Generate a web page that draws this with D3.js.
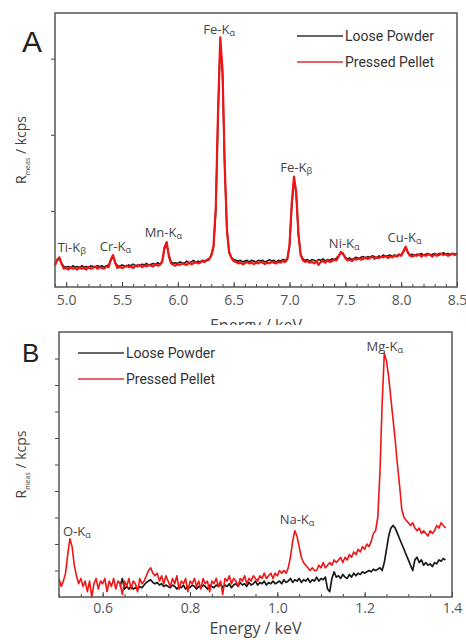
<!DOCTYPE html>
<html>
<head>
<meta charset="utf-8">
<script src="https://cdn.jsdelivr.net/npm/d3@7"></script>
<style>
  body { margin: 0; background: #fff; }
  text { font-family: "Open Sans", sans-serif; fill: #444; }
  .legend text { font-family: Roboto, sans-serif; fill: #333; }
  .axis text { fill: #555; }
  .axis line { stroke: #444; }
</style>
</head>
<body>
<svg width="466" height="640"></svg>
<script>
// ---- panel A : 4.9 - 8.5 keV, one point every 0.02 keV ----
const startA = 4.90, stepA = 0.02;
const pelletA = [
  0.28,0.36,0.39,0.30,0.24,0.25,0.23,0.26,0.24,0.25,
  0.23,0.26,0.24,0.25,0.23,0.26,0.24,0.25,0.27,0.24,
  0.26,0.25,0.24,0.27,0.26,0.36,0.42,0.31,0.25,0.27,
  0.25,0.26,0.28,0.26,0.27,0.25,0.28,0.27,0.29,0.26,
  0.28,0.27,0.29,0.28,0.27,0.30,0.28,0.29,0.33,0.52,
  0.59,0.40,0.31,0.29,0.28,0.30,0.29,0.31,0.30,0.29,
  0.32,0.30,0.31,0.33,0.31,0.32,0.34,0.33,0.35,0.36,
  0.42,0.55,1.05,2.30,3.28,2.85,1.60,0.75,0.45,0.38,
  0.34,0.33,0.31,0.32,0.30,0.31,0.33,0.31,0.32,0.30,
  0.32,0.31,0.33,0.32,0.30,0.32,0.31,0.33,0.32,0.31,
  0.33,0.32,0.34,0.33,0.36,0.55,1.10,1.45,1.25,0.70,
  0.42,0.35,0.33,0.34,0.32,0.33,0.31,0.34,0.29,0.33,
  0.34,0.32,0.35,0.33,0.34,0.36,0.35,0.40,0.46,0.44,
  0.38,0.35,0.36,0.34,0.37,0.36,0.38,0.36,0.37,0.39,
  0.37,0.38,0.40,0.37,0.39,0.38,0.40,0.39,0.41,0.38,
  0.40,0.39,0.41,0.40,0.42,0.41,0.47,0.53,0.45,0.41,
  0.40,0.42,0.41,0.43,0.40,0.42,0.41,0.43,0.42,0.40,
  0.43,0.41,0.42,0.44,0.42,0.43,0.41,0.43,0.44,0.42,
  0.43
];
const powderA = [
  0.30,0.35,0.37,0.31,0.27,0.26,0.27,0.25,0.28,0.26,
  0.27,0.25,0.28,0.26,0.27,0.25,0.28,0.27,0.26,0.28,
  0.27,0.28,0.26,0.28,0.29,0.35,0.40,0.32,0.28,0.27,
  0.29,0.28,0.27,0.29,0.28,0.30,0.28,0.29,0.28,0.30,
  0.29,0.31,0.28,0.30,0.31,0.29,0.32,0.30,0.34,0.50,
  0.56,0.42,0.33,0.31,0.32,0.31,0.33,0.32,0.31,0.34,
  0.32,0.33,0.35,0.32,0.34,0.33,0.35,0.34,0.36,0.37,
  0.41,0.52,1.00,2.25,3.22,2.80,1.55,0.72,0.46,0.39,
  0.36,0.35,0.34,0.35,0.33,0.34,0.35,0.33,0.35,0.34,
  0.33,0.35,0.34,0.35,0.33,0.34,0.36,0.34,0.35,0.33,
  0.35,0.34,0.36,0.35,0.37,0.53,1.05,1.40,1.22,0.68,
  0.43,0.37,0.35,0.36,0.34,0.36,0.35,0.34,0.36,0.35,
  0.37,0.34,0.36,0.35,0.37,0.36,0.38,0.41,0.45,0.43,
  0.39,0.37,0.38,0.36,0.38,0.39,0.37,0.39,0.40,0.38,
  0.40,0.39,0.41,0.40,0.38,0.41,0.39,0.42,0.40,0.41,
  0.42,0.40,0.42,0.41,0.43,0.42,0.46,0.51,0.46,0.42,
  0.43,0.41,0.43,0.42,0.44,0.42,0.43,0.44,0.42,0.43,
  0.44,0.42,0.44,0.43,0.45,0.43,0.44,0.42,0.44,0.43,
  0.44
];
const ticksA = [5.0, 5.5, 6.0, 6.5, 7.0, 7.5, 8.0, 8.5];
const yTicksA = [1, 2, 3];
const peakElemA = ["Ti", "Cr", "Mn", "Fe", "Fe", "Ni", "Cu"];
const peakLineA = ["β", "α", "α", "α", "β", "α", "α"];
const peakEnergyA = [5.05, 5.44, 5.87, 6.37, 7.06, 7.49, 8.03];
const peakHeightA = [0.46, 0.47, 0.66, 3.32, 1.51, 0.51, 0.59];

// ---- panel B : 0.5 - 1.385 keV, one point every 0.005 keV ----
const startB = 0.500, stepB = 0.005;
const pelletB = [
  0.7,0.4,0.6,0.9,1.6,2.2,1.9,1.2,0.8,0.5,
  0.7,0.4,0.6,0.2,0.6,0.0,0.5,0.7,0.3,0.6,
  0.5,0.7,0.2,0.6,0.4,0.7,0.3,0.6,0.5,0.1,
  0.6,0.4,0.7,0.3,0.6,0.5,0.2,0.7,0.5,0.6,
  0.8,1.0,1.1,0.9,0.8,0.9,0.6,0.8,0.5,0.8,
  0.6,0.4,0.7,0.5,0.8,0.3,0.6,0.5,0.7,0.2,
  0.6,0.5,0.7,0.4,0.6,0.3,0.7,0.5,0.6,0.2,
  0.6,0.5,0.7,0.4,0.6,0.1,0.7,0.6,0.8,0.5,
  0.7,0.6,0.4,0.7,0.6,0.8,0.5,0.7,0.6,0.8,
  0.7,0.6,0.8,0.7,0.9,0.7,0.8,0.9,0.7,0.9,
  0.8,1.0,0.9,1.0,0.9,1.1,1.5,2.1,2.5,2.3,
  1.9,1.5,1.3,1.2,1.1,1.0,1.1,1.0,1.0,1.2,
  1.1,1.3,1.1,1.2,1.3,1.2,1.4,1.3,1.4,1.5,
  1.3,1.5,1.4,1.6,1.5,1.7,1.6,1.8,1.7,1.9,
  1.8,2.0,1.9,2.1,2.4,2.5,3.0,4.7,7.3,9.2,
  8.9,8.3,7.5,6.7,5.9,5.0,4.2,3.3,3.0,2.9,
  2.8,2.7,2.8,2.6,2.5,2.6,2.4,2.5,2.4,2.3,
  2.5,2.4,2.5,2.7,2.6,2.8,2.7,2.6
];
// loose powder trace starts at 0.640 keV
const startPowderB = 0.640;
const powderB = [
  0.4,0.7,0.3,0.4,0.3,0.4,0.3,0.35,0.3,0.4,
  0.35,0.45,0.55,0.6,0.65,0.55,0.5,0.55,0.45,0.5,
  0.4,0.45,0.4,0.35,0.45,0.4,0.3,0.4,0.35,0.45,
  0.3,0.4,0.35,0.45,0.4,0.3,0.4,0.35,0.45,0.4,
  0.3,0.45,0.4,0.35,0.45,0.4,0.5,0.35,0.45,0.4,
  0.5,0.35,0.45,0.5,0.4,0.55,0.45,0.5,0.4,0.55,
  0.45,0.5,0.6,0.45,0.55,0.5,0.6,0.45,0.55,0.5,
  0.6,0.5,0.55,0.6,0.5,0.65,0.55,0.6,0.7,0.55,
  0.65,0.6,0.7,0.55,0.65,0.6,0.7,0.55,0.65,0.6,
  0.75,0.6,0.7,0.65,0.75,0.3,0.2,0.7,0.95,0.75,
  0.8,0.7,0.85,0.75,0.7,0.85,0.75,0.9,0.8,0.9,
  0.85,0.95,0.9,0.95,1.0,0.95,1.05,1.0,1.05,1.1,
  1.0,1.3,1.8,2.3,2.6,2.7,2.6,2.4,2.2,2.0,
  1.8,1.6,1.4,1.2,1.0,1.4,1.5,1.3,1.4,1.2,
  1.3,1.2,1.25,1.15,1.3,1.25,1.4,1.35,1.45,1.4
];
const ticksB = [0.6, 0.8, 1.0, 1.2, 1.4];
const yTicksB = [1, 2, 3, 4, 5, 6, 7, 8, 9];
const peakElemB = ["O", "Na", "Mg"];
const peakLineB = ["α", "α", "α"];
const peakEnergyB = [0.541, 1.045, 1.246];
const peakHeightB = [2.30, 2.75, 9.28];

const seriesNames = ["Loose Powder", "Pressed Pellet"];
const seriesColors = ["#1a1a1a", "#f01414"];

const svg = d3.select("svg");

function toPoints(start, step, values) {
  return values.map((v, i) => ({ e: start + i * step, v: v }));
}

function drawPanel(p) {
  const g = svg.append("g");

  // white panel background (panel B covers the bottom of panel A's axis title)
  if (p.bgTop != null) {
    g.append("rect")
      .attr("x", 0).attr("y", p.bgTop)
      .attr("width", 466).attr("height", 640 - p.bgTop)
      .attr("fill", "#fff");
  }

  const x = d3.scaleLinear().domain(p.xDomain).range([p.left, p.right]);
  const y = d3.scaleLinear().domain(p.yDomain).range([p.bottom, p.top]);

  // minor ticks (inward)
  g.append("g")
    .attr("class", "axis")
    .attr("transform", `translate(0,${p.bottom})`)
    .call(d3.axisBottom(x).tickValues(p.minor).tickSize(-3).tickFormat(""))
    .call(s => s.select(".domain").remove());

  // major ticks + labels
  g.append("g")
    .attr("class", "axis")
    .attr("transform", `translate(0,${p.bottom})`)
    .call(d3.axisBottom(x).tickValues(p.ticks).tickSize(-5).tickPadding(p.tickPad)
      .tickFormat(d3.format(".1f")))
    .call(s => s.select(".domain").remove())
    .selectAll("text").style("font-size", "14px");

  g.append("g")
    .attr("class", "axis")
    .attr("transform", `translate(${p.left},0)`)
    .call(d3.axisLeft(y).tickValues(p.yTicks).tickSize(4).tickFormat(""))
    .call(s => s.select(".domain").remove());

  const line = d3.line().x(d => x(d.e)).y(d => y(d.v));

  g.append("path")
    .datum(p.powder)
    .attr("fill", "none")
    .attr("stroke", seriesColors[0])
    .attr("stroke-width", p.powderWidth)
    .attr("stroke-linejoin", "round")
    .attr("d", line);

  g.append("path")
    .datum(p.pellet)
    .attr("fill", "none")
    .attr("stroke", seriesColors[1])
    .attr("stroke-width", p.pelletWidth)
    .attr("stroke-linejoin", "round")
    .attr("d", line);

  // frame
  g.append("rect")
    .attr("x", p.left).attr("y", p.top)
    .attr("width", p.right - p.left).attr("height", p.bottom - p.top)
    .attr("fill", "none").attr("stroke", "#555").attr("stroke-width", 1.5);

  // peak labels
  p.peaks.forEach(pk => {
    const t = g.append("text")
      .attr("x", x(pk.e)).attr("y", y(pk.h))
      .attr("text-anchor", "middle")
      .style("font-size", "13px");
    t.append("tspan").text(pk.el + "-K");
    t.append("tspan").attr("dy", 2).style("font-size", "9px").text(pk.line);
  });

  // legend
  const lg = g.append("g").attr("class", "legend");
  seriesNames.forEach((name, i) => {
    const ly = p.legendY + i * 26;
    lg.append("line")
      .attr("x1", p.legendX).attr("x2", p.legendX + 46)
      .attr("y1", ly).attr("y2", ly)
      .attr("stroke", i === 0 ? "#333" : "#e0303c").attr("stroke-width", 1.3);
    lg.append("text")
      .attr("x", p.legendX + 48).attr("y", ly + 5)
      .style("font-size", "14px")
      .text(name);
  });

  // panel letter
  g.append("text")
    .attr("x", 22).attr("y", p.letterY)
    .style("font-family", "Liberation Sans, Arial, sans-serif")
    .style("font-size", p.letterSize + "px").style("fill", "#222")
    .text(p.letter);

  // y title
  const cy = (p.top + p.bottom) / 2;
  const yt = g.append("text")
    .attr("transform", `translate(${p.yTitleX},${cy}) rotate(-90)`)
    .attr("text-anchor", "middle")
    .style("font-size", "14px");
  yt.append("tspan").text("R");
  yt.append("tspan").attr("dy", 4).style("font-size", "7px").text("meas");
  yt.append("tspan").attr("dy", -4).text(" / kcps");

  // x title
  g.append("text")
    .attr("x", (p.left + p.right) / 2).attr("y", p.xTitleY)
    .attr("text-anchor", "middle")
    .style("font-size", "16px")
    .text("Energy / keV");
}

drawPanel({
  letter: "A", letterY: 52, letterSize: 30,
  left: 55, right: 457, top: 13, bottom: 287,
  xDomain: [4.9, 8.5], yDomain: [0, 3.6],
  ticks: ticksA, minor: d3.range(49, 86).map(d => d / 10), yTicks: yTicksA,
  tickPad: 8, powderWidth: 1.6, pelletWidth: 2.2,
  pellet: toPoints(startA, stepA, pelletA),
  powder: toPoints(startA, stepA, powderA),
  peaks: peakElemA.map((el, i) => ({ el: el, line: peakLineA[i], e: peakEnergyA[i], h: peakHeightA[i] })),
  legendX: 297, legendY: 36,
  yTitleX: 26, xTitleY: 331
});

drawPanel({
  letter: "B", letterY: 362, letterSize: 26, bgTop: 325,
  left: 59, right: 452, top: 332, bottom: 597,
  xDomain: [0.5, 1.4], yDomain: [0, 10],
  ticks: ticksB, minor: d3.range(10, 29).map(d => d / 20), yTicks: yTicksB,
  tickPad: 6, powderWidth: 1.7, pelletWidth: 1.6,
  pellet: toPoints(startB, stepB, pelletB),
  powder: toPoints(startPowderB, stepB, powderB),
  peaks: peakElemB.map((el, i) => ({ el: el, line: peakLineB[i], e: peakEnergyB[i], h: peakHeightB[i] })),
  legendX: 78, legendY: 353,
  yTitleX: 26, xTitleY: 634
});
</script>
</body>
</html>
